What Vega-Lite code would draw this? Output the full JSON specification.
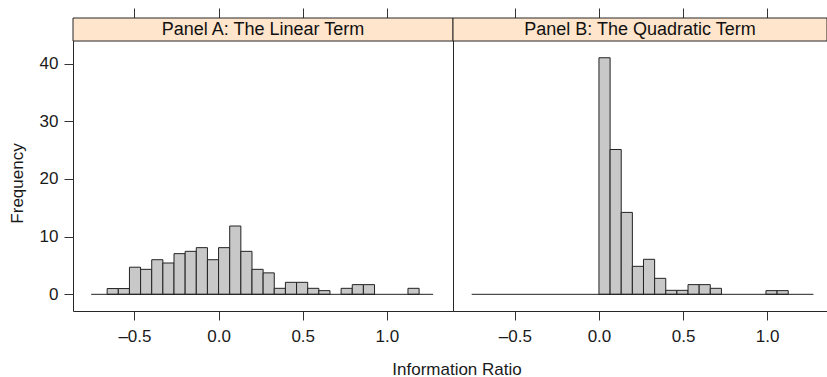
{
  "$schema": "https://vega.github.io/schema/vega-lite/v6.json",
  "padding": {"left": 7, "top": 7, "right": 0, "bottom": 0},
  "bounds": "flush",
  "spacing": 0,
  "config": {
    "font": "Liberation Sans",
    "view": {"stroke": "#262626", "strokeWidth": 1},
    "axis": {
      "labelFont": "Liberation Sans", "labelFontSize": 17, "labelColor": "#1a1a1a",
      "tickColor": "#333333", "domain": false, "grid": false,
      "titleFont": "Liberation Sans", "titleFontSize": 17, "titleFontWeight": "normal", "titleColor": "#1a1a1a"
    }
  },
  "datasets": {
    "bins": [
      {"panel": "A", "x0": -0.662, "x1": -0.5958, "pct": 1.0},
      {"panel": "A", "x0": -0.5958, "x1": -0.5296, "pct": 1.0},
      {"panel": "A", "x0": -0.5296, "x1": -0.4634, "pct": 4.7},
      {"panel": "A", "x0": -0.4634, "x1": -0.3972, "pct": 4.33},
      {"panel": "A", "x0": -0.3972, "x1": -0.331, "pct": 6.0},
      {"panel": "A", "x0": -0.331, "x1": -0.2648, "pct": 5.43},
      {"panel": "A", "x0": -0.2648, "x1": -0.1986, "pct": 7.05},
      {"panel": "A", "x0": -0.1986, "x1": -0.1324, "pct": 7.45},
      {"panel": "A", "x0": -0.1324, "x1": -0.0662, "pct": 8.09},
      {"panel": "A", "x0": -0.0662, "x1": 0.0, "pct": 6.0},
      {"panel": "A", "x0": 0.0, "x1": 0.0662, "pct": 8.09},
      {"panel": "A", "x0": 0.0662, "x1": 0.1324, "pct": 11.84},
      {"panel": "A", "x0": 0.1324, "x1": 0.1986, "pct": 7.45},
      {"panel": "A", "x0": 0.1986, "x1": 0.2648, "pct": 4.33},
      {"panel": "A", "x0": 0.2648, "x1": 0.331, "pct": 3.72},
      {"panel": "A", "x0": 0.331, "x1": 0.3972, "pct": 1.04},
      {"panel": "A", "x0": 0.3972, "x1": 0.4634, "pct": 2.08},
      {"panel": "A", "x0": 0.4634, "x1": 0.5296, "pct": 2.08},
      {"panel": "A", "x0": 0.5296, "x1": 0.5958, "pct": 1.04},
      {"panel": "A", "x0": 0.5958, "x1": 0.662, "pct": 0.64},
      {"panel": "A", "x0": 0.7282, "x1": 0.7944, "pct": 1.04},
      {"panel": "A", "x0": 0.7944, "x1": 0.8606, "pct": 1.68},
      {"panel": "A", "x0": 0.8606, "x1": 0.9268, "pct": 1.68},
      {"panel": "A", "x0": 1.1254, "x1": 1.1916, "pct": 1.04},
      {"panel": "B", "x0": 0.0, "x1": 0.0662, "pct": 41.0},
      {"panel": "B", "x0": 0.0662, "x1": 0.1324, "pct": 25.1},
      {"panel": "B", "x0": 0.1324, "x1": 0.1986, "pct": 14.2},
      {"panel": "B", "x0": 0.1986, "x1": 0.2648, "pct": 4.85},
      {"panel": "B", "x0": 0.2648, "x1": 0.331, "pct": 6.07},
      {"panel": "B", "x0": 0.331, "x1": 0.3972, "pct": 2.77},
      {"panel": "B", "x0": 0.3972, "x1": 0.4634, "pct": 0.69},
      {"panel": "B", "x0": 0.4634, "x1": 0.5296, "pct": 0.69},
      {"panel": "B", "x0": 0.5296, "x1": 0.5958, "pct": 1.68},
      {"panel": "B", "x0": 0.5958, "x1": 0.662, "pct": 1.68},
      {"panel": "B", "x0": 0.662, "x1": 0.7282, "pct": 1.04},
      {"panel": "B", "x0": 0.993, "x1": 1.0592, "pct": 0.64},
      {"panel": "B", "x0": 1.0592, "x1": 1.1254, "pct": 0.64}
    ],
    "strips": [
      {"panel": "A", "label": "Panel A: The Linear Term"},
      {"panel": "B", "label": "Panel B: The Quadratic Term"}
    ]
  },
  "hconcat": [
    {
      "width": 380,
      "height": 293,
      "layer": [
        {
          "data": {"name": "bins"},
          "transform": [{"filter": "datum.panel == 'A'"}],
          "mark": {"type": "rect", "fill": "#c8c8c8", "stroke": "#222222", "strokeWidth": 1},
          "encoding": {
            "x": {
              "field": "x0", "type": "quantitative",
              "scale": {"domain": [-0.865, 1.393], "nice": false, "zero": false},
              "axis": {
                "orient": "bottom", "values": [-0.5, 0, 0.5, 1], "tickSize": 9, "labelPadding": 8,
                "labelExpr": "datum.value < 0 ? '–' + format(-datum.value, '.1f') : format(datum.value, '.1f')",
                "title": "Information Ratio", "titleX": 383.5, "titleY": 63,
                "titleBaseline": "alphabetic", "titleAlign": "center"
              }
            },
            "x2": {"field": "x1"},
            "y": {
              "field": "pct", "type": "quantitative",
              "scale": {"domain": [-2.89, 47.89], "nice": false, "zero": false},
              "axis": {
                "values": [0, 10, 20, 30, 40], "tickSize": 9, "labelPadding": 6,
                "title": "Frequency", "titleX": -50.8, "titleY": 165, "titleAngle": -90,
                "titleBaseline": "alphabetic", "titleAlign": "center"
              }
            },
            "y2": {"datum": 0}
          }
        },
        {
          "data": {"name": "strips"},
          "transform": [{"filter": "datum.panel == 'A'"}],
          "mark": {"type": "rect", "fill": "#ffe5cc", "stroke": "#262626", "strokeWidth": 1},
          "encoding": {
            "y": {"datum": 43.9, "type": "quantitative"},
            "y2": {"datum": 47.89}
          }
        },
        {
          "data": {"name": "strips"},
          "transform": [{"filter": "datum.panel == 'A'"}],
          "mark": {"type": "rule", "stroke": "#222222", "strokeWidth": 1},
          "encoding": {
            "x": {
              "datum": -0.757, "type": "quantitative",
              "axis": {"orient": "top", "values": [-0.5, 0, 0.5, 1], "tickSize": 10, "labels": false, "title": null}
            },
            "x2": {"datum": 1.275},
            "y": {"datum": 0, "type": "quantitative"}
          }
        },
        {
          "data": {"name": "strips"},
          "transform": [{"filter": "datum.panel == 'A'"}],
          "mark": {"type": "text", "fontSize": 18, "font": "Liberation Sans", "color": "#111111", "baseline": "alphabetic", "align": "center"},
          "encoding": {
            "y": {"datum": 44.9, "type": "quantitative"},
            "text": {"field": "label"}
          }
        }
      ]
    },
    {
      "width": 374,
      "height": 293,
      "layer": [
        {
          "data": {"name": "bins"},
          "transform": [{"filter": "datum.panel == 'B'"}],
          "mark": {"type": "rect", "fill": "#c8c8c8", "stroke": "#222222", "strokeWidth": 1},
          "encoding": {
            "x": {
              "field": "x0", "type": "quantitative",
              "scale": {"domain": [-0.868, 1.356], "nice": false, "zero": false},
              "axis": {
                "orient": "bottom", "values": [-0.5, 0, 0.5, 1], "tickSize": 9, "labelPadding": 8,
                "labelExpr": "datum.value < 0 ? '–' + format(-datum.value, '.1f') : format(datum.value, '.1f')",
                "title": null
              }
            },
            "x2": {"field": "x1"},
            "y": {
              "field": "pct", "type": "quantitative",
              "scale": {"domain": [-2.89, 47.89], "nice": false, "zero": false},
              "axis": null
            },
            "y2": {"datum": 0}
          }
        },
        {
          "data": {"name": "strips"},
          "transform": [{"filter": "datum.panel == 'B'"}],
          "mark": {"type": "rect", "fill": "#ffe5cc", "stroke": "#262626", "strokeWidth": 1},
          "encoding": {
            "y": {"datum": 43.9, "type": "quantitative", "axis": null},
            "y2": {"datum": 47.89}
          }
        },
        {
          "data": {"name": "strips"},
          "transform": [{"filter": "datum.panel == 'B'"}],
          "mark": {"type": "rule", "stroke": "#222222", "strokeWidth": 1},
          "encoding": {
            "x": {
              "datum": -0.757, "type": "quantitative",
              "axis": {"orient": "top", "values": [-0.5, 0, 0.5, 1], "tickSize": 10, "labels": false, "title": null}
            },
            "x2": {"datum": 1.275},
            "y": {"datum": 0, "type": "quantitative", "axis": null}
          }
        },
        {
          "data": {"name": "strips"},
          "transform": [{"filter": "datum.panel == 'B'"}],
          "mark": {"type": "text", "fontSize": 18, "font": "Liberation Sans", "color": "#111111", "baseline": "alphabetic", "align": "center"},
          "encoding": {
            "y": {"datum": 44.9, "type": "quantitative", "axis": null},
            "text": {"field": "label"}
          }
        }
      ]
    }
  ]
}
